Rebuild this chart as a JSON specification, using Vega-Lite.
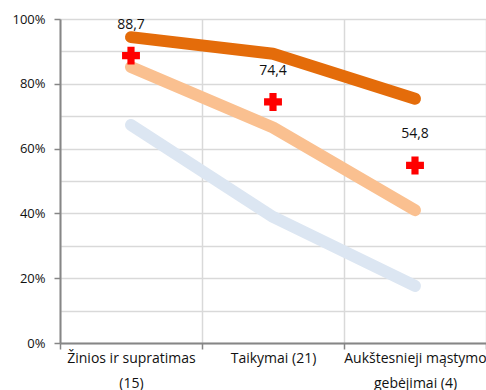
{
  "$schema": "https://vega.github.io/schema/vega-lite/v6.json",
  "width": 426,
  "height": 324,
  "autosize": {"type": "none"},
  "padding": {"left": 60, "top": 19, "right": 0, "bottom": 47},
  "background": "white",
  "config": {
    "font": "Open Sans",
    "view": {"stroke": null},
    "locale": {"number": {"decimal": ",", "thousands": " ", "grouping": [3], "currency": ["", " €"]}},
    "axis": {"labelFont": "Open Sans", "labelFontSize": 13, "labelColor": "#111111", "domainColor": "#868686", "domainWidth": 2, "tickColor": "#868686", "tickWidth": 1.5, "gridColor": "#d9d9d9", "gridWidth": 1.5, "title": null}
  },
  "datasets": {
    "lines": [
      {"cat": "Žinios ir supratimas|(15)", "series": "s1", "v": 94.4},
      {"cat": "Taikymai (21)", "series": "s1", "v": 89.3},
      {"cat": "Aukštesnieji mąstymo|gebėjimai (4)", "series": "s1", "v": 75.4},
      {"cat": "Žinios ir supratimas|(15)", "series": "s2", "v": 85.2},
      {"cat": "Taikymai (21)", "series": "s2", "v": 66.5},
      {"cat": "Aukštesnieji mąstymo|gebėjimai (4)", "series": "s2", "v": 41.0},
      {"cat": "Žinios ir supratimas|(15)", "series": "s3", "v": 67.3},
      {"cat": "Taikymai (21)", "series": "s3", "v": 38.9},
      {"cat": "Aukštesnieji mąstymo|gebėjimai (4)", "series": "s3", "v": 17.6}
    ],
    "marks": [
      {"cat": "Žinios ir supratimas|(15)", "v": 88.7},
      {"cat": "Taikymai (21)", "v": 74.4},
      {"cat": "Aukštesnieji mąstymo|gebėjimai (4)", "v": 54.8}
    ]
  },
  "encoding": {
    "x": {
      "field": "cat", "type": "nominal", "sort": null,
      "scale": {"type": "band", "paddingInner": 0, "paddingOuter": 0, "domain": ["Žinios ir supratimas|(15)", "Taikymai (21)", "Aukštesnieji mąstymo|gebėjimai (4)"]},
      "axis": {"tickBand": "extent", "grid": true, "labelAngle": 0, "tickSize": 6, "labelPadding": 2, "labelBaseline": "top", "labelFontSize": 14, "labelLineHeight": 25, "labelExpr": "split(datum.label, '|')", "labelLimit": 200, "labelOverlap": false, "labelBound": false}
    },
    "y": {
      "field": "v", "type": "quantitative",
      "scale": {"domain": [0, 100], "nice": false},
      "axis": {"values": [0, 10, 20, 30, 40, 50, 60, 70, 80, 90, 100], "labelExpr": "datum.value % 20 == 0 ? datum.value + '%' : ''", "tickSize": 6, "labelPadding": 9, "tickOpacity": {"condition": {"test": "datum.value % 20 != 0", "value": 0}, "value": 1}}
    }
  },
  "layer": [
    {
      "data": {"name": "lines"},
      "mark": {"type": "line", "strokeWidth": 12, "strokeCap": "round", "strokeJoin": "round"},
      "encoding": {
        "color": {"field": "series", "type": "nominal", "scale": {"domain": ["s1", "s2", "s3"], "range": ["#e46c0a", "#fac090", "#dce6f2"]}, "legend": null}
      }
    },
    {
      "data": {"name": "marks"},
      "mark": {"type": "point", "shape": "cross", "filled": true, "color": "#ff0000", "size": 320, "opacity": 1}
    },
    {
      "data": {"name": "marks"},
      "mark": {"type": "text", "fontSize": 14, "baseline": "middle", "dy": -31, "color": "#111111", "font": "Open Sans"},
      "encoding": {"text": {"field": "v", "type": "quantitative", "format": ".1f"}}
    }
  ]
}
